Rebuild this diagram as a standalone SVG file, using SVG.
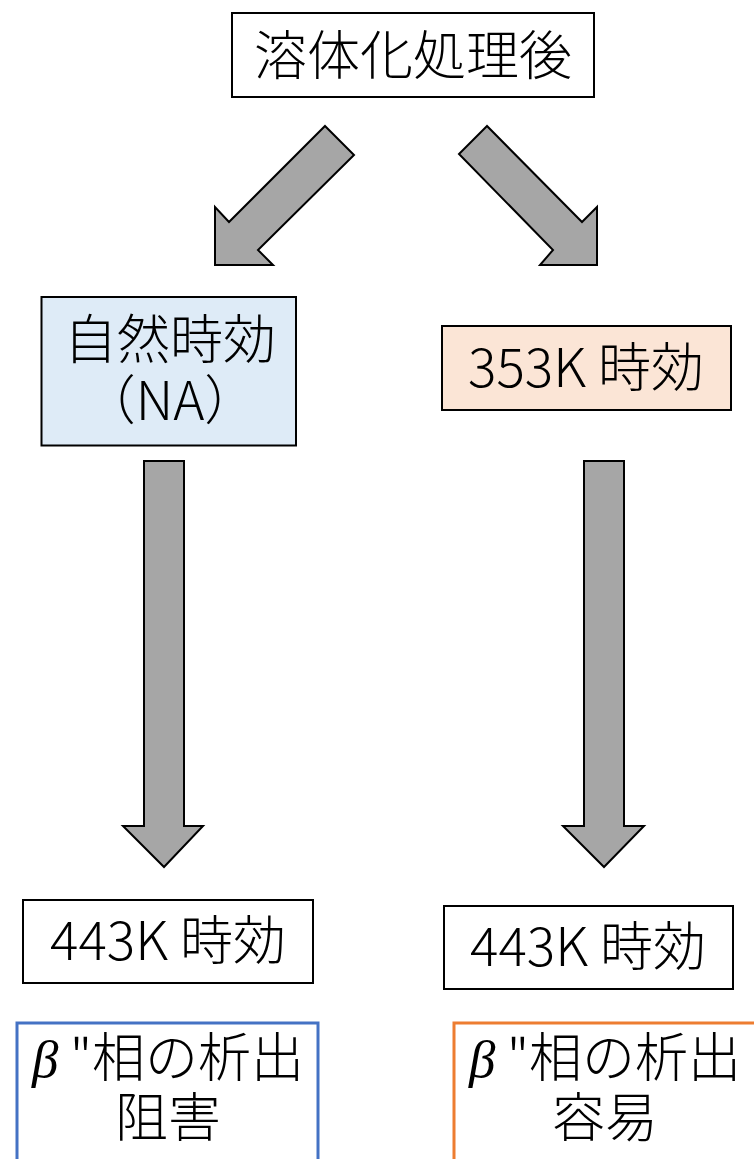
<svg xmlns="http://www.w3.org/2000/svg" width="754" height="1159" viewBox="0 0 754 1159">
<style>
.box{stroke:#000;stroke-width:2}
.arrow{fill:#A6A6A6;stroke:#000;stroke-width:2;stroke-linejoin:miter}
.t{font-family:"Noto Sans CJK JP","Noto Sans",sans-serif;font-weight:300;font-size:53px;fill:#000;text-anchor:middle}
.b{font-family:"Liberation Serif","DejaVu Serif",serif;font-style:italic}
</style>
<rect width="754" height="1159" fill="#fff"/>
<g id="connectors">
<polygon class="arrow" points="325,126 354,155 258,250 273,265 215,265 215,207 229,222"/>
<polygon class="arrow" points="487,126 459,154 553,250 540,265 597,265 597,207 582,222"/>
<polygon class="arrow" points="144,461 184,461 184,826 203,826 164,867 123,826 144,826"/>
<polygon class="arrow" points="584,461 624,461 624,826 644,826 604,867 563,826 584,826"/>
</g>
<g id="node-top">
<rect class="box" x="232" y="13" width="362" height="84" fill="#fff"/>
<text class="t" x="413" y="75">溶体化処理後</text>
</g>
<g id="node-na">
<rect class="box" x="41.5" y="297" width="254.5" height="148.5" fill="#DEEBF7"/>
<text class="t" x="170" y="359">自然時効<tspan x="170" dy="61">（NA）</tspan></text>
</g>
<g id="node-353">
<rect class="box" x="442" y="326" width="289" height="84" fill="#FBE5D6"/>
<text class="t" x="586" y="387">353K 時効</text>
</g>
<g id="node-443-left">
<rect class="box" x="23" y="900" width="290" height="83" fill="#fff"/>
<text class="t" x="168" y="960">443K 時効</text>
</g>
<g id="node-443-right">
<rect class="box" x="444" y="906" width="289" height="83" fill="#fff"/>
<text class="t" x="588" y="966">443K 時効</text>
</g>
<g id="node-result-left">
<rect x="17" y="1023" width="301" height="140" fill="#fff" stroke="#4472C4" stroke-width="3"/>
<text class="t" x="168" y="1077"><tspan class="b">β</tspan> "相の析出<tspan x="168" dy="60">阻害</tspan></text>
</g>
<g id="node-result-right">
<rect x="454" y="1023" width="304" height="140" fill="#fff" stroke="#ED7D31" stroke-width="3"/>
<text class="t" x="605" y="1077"><tspan class="b">β</tspan> "相の析出<tspan x="605" dy="60">容易</tspan></text>
</g>
</svg>
